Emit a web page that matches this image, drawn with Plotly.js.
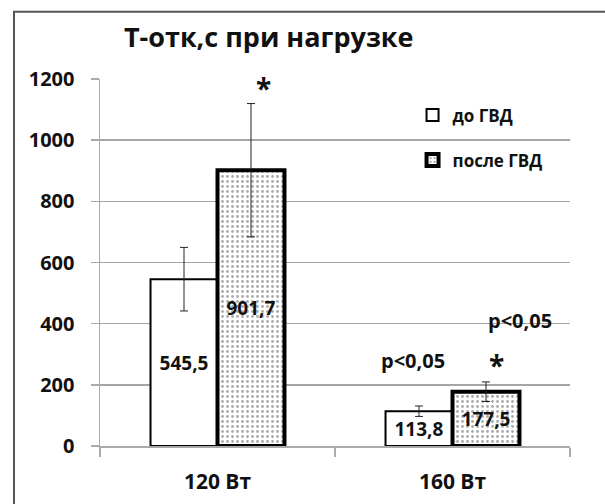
<!DOCTYPE html>
<html>
<head>
<meta charset="utf-8">
<script src="https://cdn.plot.ly/plotly-3.0.1.min.js"></script>
<style>
html,body{margin:0;padding:0;background:#fff;}
#chart{width:605px;height:504px;}
</style>
</head>
<body>
<div id="chart"></div>
<script>
// ---- data ----
const categories = ["120 Вт", "160 Вт"];
const seriesNames = ["до ГВД", "после ГВД"];
const before = [545.5, 113.8];
const after = [901.7, 177.5];
const beforeErr = [104, 17];
const afterErr = [218, 32];
const titleText = "Т-отк,с при нагрузке";
const starLabel = "*";
const pLabel = "p<0,05";

const FONT = "'Open Sans', sans-serif";

const traces = [
  {
    type: "bar",
    name: seriesNames[0],
    x: categories,
    y: before,
    legendgroup: "a",
    marker: { color: "#ffffff", line: { color: "#000", width: 2 } },
    error_y: { type: "data", array: beforeErr, visible: true, color: "#222", thickness: 1, width: 4 },
    texttemplate: "%{y:.1f}",
    textposition: "inside",
    insidetextanchor: "middle",
    textangle: 0,
    textfont: { family: FONT, size: 19, color: "#111", weight: "bold" }
  },
  {
    type: "bar",
    name: seriesNames[1],
    x: categories,
    y: after,
    legendgroup: "b",
    marker: {
      color: "#ffffff",
      line: { color: "#000", width: 4 },
      pattern: { shape: ".", fgcolor: "#aaaaaa", bgcolor: "#ffffff", size: 5, solidity: 0.25 }
    },
    error_y: { type: "data", array: afterErr, visible: true, color: "#222", thickness: 1, width: 4 },
    texttemplate: "%{y:.1f}",
    textposition: "inside",
    insidetextanchor: "middle",
    textangle: 0,
    textfont: { family: FONT, size: 19, color: "#111", weight: "bold" }
  }
];

const annFont = { family: FONT, size: 20, color: "#111", weight: "bold" };
const starFont = { family: FONT, size: 28, color: "#111", weight: "bold" };
const layout = {
  width: 605,
  height: 504,
  margin: { l: 100, r: 35, t: 79, b: 58 },
  paper_bgcolor: "#fff",
  plot_bgcolor: "#fff",
  separators: ", ",
  barmode: "group",
  bargap: 0.43,
  bargroupgap: 0,
  showlegend: true,
  legend: {
    x: 0.665, y: 0.95, xanchor: "left", yanchor: "top",
    traceorder: "grouped", tracegroupgap: 20,
    font: { family: FONT, size: 17, color: "#111", weight: "bold" },
    bgcolor: "rgba(0,0,0,0)"
  },
  title: {
    text: titleText,
    font: { family: FONT, size: 27, color: "#111", weight: "bold" },
    xref: "paper", x: 0.359, xanchor: "center",
    yref: "container", y: 0.925, yanchor: "middle"
  },
  xaxis: {
    type: "category",
    showgrid: false,
    showline: true, linecolor: "#aaaaaa", linewidth: 1.5,
    ticks: "outside", tickson: "boundaries", ticklen: 9, tickcolor: "#aaaaaa", tickwidth: 1.5,
    tickfont: { family: FONT, size: 21, color: "#111", weight: "bold" },
    ticklabelstandoff: 16,
    zeroline: false
  },
  yaxis: {
    range: [0, 1200],
    dtick: 200,
    showgrid: true, gridcolor: "#a6a6a6", gridwidth: 1.5,
    showline: true, linecolor: "#aaaaaa", linewidth: 1.5,
    ticks: "outside", ticklen: 8, tickcolor: "#aaaaaa", tickwidth: 1.5,
    tickfont: { family: FONT, size: 20, color: "#111", weight: "bold" },
    ticklabelstandoff: 12,
    zeroline: false
  },
  annotations: [
    { x: 0.194, y: 1170, xref: "x", yref: "y", text: starLabel, showarrow: false, font: starFont },
    { x: 1.189, y: 265, xref: "x", yref: "y", text: starLabel, showarrow: false, font: starFont },
    { x: 0.832, y: 278, xref: "x", yref: "y", text: pLabel, showarrow: false, font: annFont },
    { x: 1.287, y: 409, xref: "x", yref: "y", text: pLabel, showarrow: false, font: annFont }
  ],
  shapes: [
    { type: "rect", xref: "paper", yref: "paper", x0: -0.183, x1: 1.1, y0: -0.2, y1: 1.1835,
      line: { color: "#555", width: 2 }, fillcolor: "rgba(0,0,0,0)", layer: "below" }
  ]
};

Plotly.newPlot("chart", traces, layout, { displayModeBar: false, staticPlot: true });
</script>
</body>
</html>
